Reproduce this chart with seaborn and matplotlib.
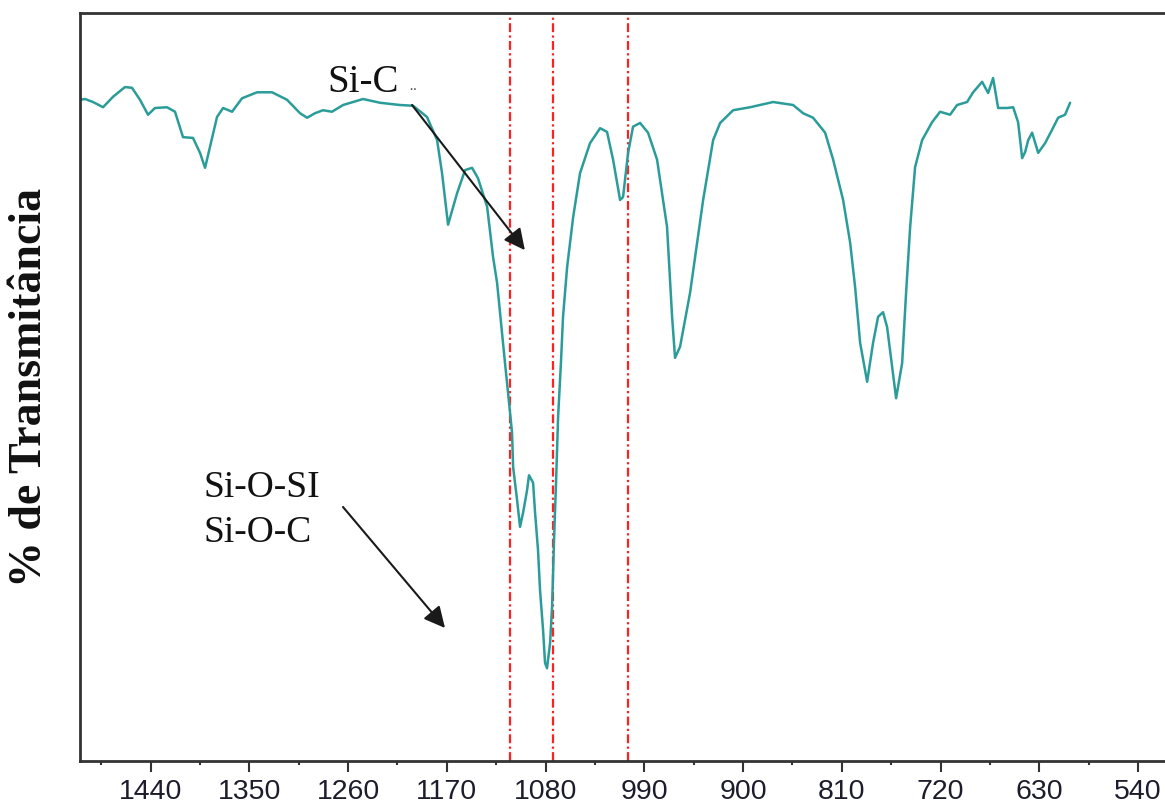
import matplotlib
matplotlib.use("Agg")
import matplotlib.pyplot as plt
from matplotlib.ticker import MultipleLocator
import seaborn as sns
import pandas as pd

# FTIR spectrum (wavenumber in cm-1, transmittance arbitrary %)
wavenumber = [
    1504.4, 1499.8, 1492.5, 1483.4, 1474.3, 1463.4, 1457.0, 1449.7, 1442.4, 1436.0,
    1425.1, 1417.8, 1410.5, 1401.4, 1395.0, 1390.4, 1385.9, 1379.5, 1374.0, 1365.8,
    1356.7, 1343.0, 1329.3, 1315.7, 1303.8, 1297.4, 1290.2, 1282.9, 1274.7, 1264.6,
    1246.4, 1230.9, 1212.7, 1200.8, 1188.1, 1178.9, 1174.4, 1168.9, 1160.7, 1153.4,
    1147.0, 1141.6, 1133.3, 1127.9, 1124.2, 1117.0, 1114.2, 1110.6, 1109.6, 1106.0,
    1103.3, 1100.5, 1096.9, 1095.1, 1091.4, 1089.6, 1086.9, 1085.1, 1082.3, 1080.5,
    1078.7, 1075.9, 1074.1, 1072.3, 1070.4, 1068.6, 1065.9, 1064.1, 1060.4, 1054.9,
    1048.6, 1039.5, 1030.3, 1024.0, 1018.5, 1012.1, 1009.4, 1004.8, 1000.3, 993.9,
    986.6, 978.4, 969.3, 964.7, 962.0, 957.4, 948.3, 936.4, 927.3, 920.9,
    909.1, 893.6, 872.6, 854.4, 845.3, 836.2, 825.2, 817.9, 808.8, 802.4,
    797.9, 793.3, 786.9, 781.5, 776.9, 772.4, 768.7, 764.1, 760.5, 755.0,
    751.4, 747.7, 743.2, 736.8, 727.7, 720.4, 711.3, 704.9, 695.8, 690.3,
    682.1, 676.6, 672.1, 667.5, 659.3, 653.8, 649.3, 645.6, 642.9, 640.1,
    636.5, 631.0, 624.7, 618.3, 612.8, 606.5, 601.9,
]
transmittance = [
    88.4, 88.5, 88.1, 87.4, 88.8, 90.1, 90.0, 88.4, 86.4, 87.3,
    87.4, 86.8, 83.4, 83.3, 81.3, 79.3, 82.1, 86.1, 87.3, 86.8,
    88.6, 89.4, 89.4, 88.4, 86.6, 86.0, 86.6, 87.0, 86.8, 87.7,
    88.5, 88.0, 87.7, 87.6, 86.1, 83.0, 78.6, 71.7, 75.9, 79.0,
    79.3, 77.9, 74.1, 67.4, 63.9, 53.2, 49.2, 43.9, 39.3, 34.9,
    31.3, 33.2, 36.2, 38.2, 37.2, 33.2, 28.2, 22.9, 17.5, 13.1,
    12.4, 15.8, 20.6, 29.5, 37.6, 46.0, 53.6, 59.4, 66.0, 72.7,
    78.6, 82.6, 84.6, 84.1, 80.4, 75.0, 75.4, 81.3, 84.8, 85.3,
    84.0, 80.4, 71.4, 59.4, 53.9, 55.4, 62.6, 75.0, 83.0, 85.3,
    87.0, 87.4, 88.1, 87.7, 86.6, 86.0, 84.0, 80.4, 75.0, 69.3,
    63.4, 55.9, 50.7, 55.9, 59.4, 60.0, 58.0, 52.7, 48.5, 53.2,
    62.6, 71.4, 79.4, 83.0, 85.4, 86.8, 86.4, 87.7, 88.1, 89.4,
    90.8, 89.3, 91.3, 87.3, 87.3, 87.4, 85.4, 80.6, 81.4, 83.0,
    84.0, 81.3, 82.6, 84.4, 86.0, 86.4, 88.0,
]
# reference band positions (red dash-dot lines)
band_positions = [1112, 1073, 1005]
xticks_major = [1440, 1350, 1260, 1170, 1080, 990, 900, 810, 720, 630, 540]

df = pd.DataFrame({"wavenumber": wavenumber, "transmittance": transmittance})

sns.set_theme(style="white")
plt.rcParams["font.family"] = ["Liberation Sans", "DejaVu Sans"]

fig = plt.figure(figsize=(11.65, 8.09), dpi=100)
ax = fig.add_axes([80 / 1165, 1 - 761 / 809, 1085 / 1165, (761 - 13) / 809])

sns.lineplot(data=df, x="wavenumber", y="transmittance", ax=ax, sort=False,
             estimator=None, color="#2A9C99", linewidth=1.8)

for b in band_positions:
    ax.axvline(b, color="#FF2020", linestyle=(0, (4, 1.5, 1, 1.5)), linewidth=1.6, zorder=1)

ax.set_xlim(1504.4, 515.4)
ax.set_ylim(0, 100)

ax.xaxis.set_major_locator(MultipleLocator(90))
ax.xaxis.set_minor_locator(MultipleLocator(45))
ax.set_xticks(xticks_major)
ax.set_xticklabels([str(t) for t in xticks_major], fontsize=20.5, color="#1c1c2c")
ax.set_yticks([])
ax.tick_params(axis="x", which="major", direction="out", length=8, width=1.5,
               color="#333333", pad=5, bottom=True)
ax.tick_params(axis="x", which="minor", direction="out", length=3, width=1.5,
               color="#333333", bottom=True)

for side in ["left", "top", "bottom"]:
    ax.spines[side].set_visible(True)
    ax.spines[side].set_color("#333333")
    ax.spines[side].set_linewidth(2)
ax.spines["right"].set_visible(False)

ax.set_xlabel("")
ax.set_ylabel("")

serif = ["Liberation Serif", "DejaVu Serif"]
fig.text(30 / 1165, 1 - 387 / 809, "% de Transmitância", rotation=90,
         ha="center", va="center", fontsize=33, fontweight="bold",
         family=serif, color="#111111")

ax.text(0.2276, 0.894, "Si-C", transform=ax.transAxes, fontsize=28,
        family=serif, ha="left", va="baseline", color="#111111")
ax.text(0.307, 0.884, "¨", transform=ax.transAxes, fontsize=14,
        family=serif, ha="center", va="baseline", color="#555555")
ax.text(0.1134, 0.353, "Si-O-SI", transform=ax.transAxes, fontsize=27,
        family=serif, ha="left", va="baseline", color="#111111")
ax.text(0.1134, 0.2928, "Si-O-C", transform=ax.transAxes, fontsize=27,
        family=serif, ha="left", va="baseline", color="#111111")

arrow_kw = dict(arrowstyle="-|>", mutation_scale=32, color="#1a1a1a", lw=1.5,
                shrinkA=0, shrinkB=0)
ax.annotate("", xy=(0.410, 0.683), xytext=(0.306, 0.877),
            xycoords="axes fraction", textcoords="axes fraction", arrowprops=arrow_kw)
ax.annotate("", xy=(0.3364, 0.1778), xytext=(0.2424, 0.3396),
            xycoords="axes fraction", textcoords="axes fraction", arrowprops=arrow_kw)

fig.savefig("out.png", dpi=100, facecolor="white")
